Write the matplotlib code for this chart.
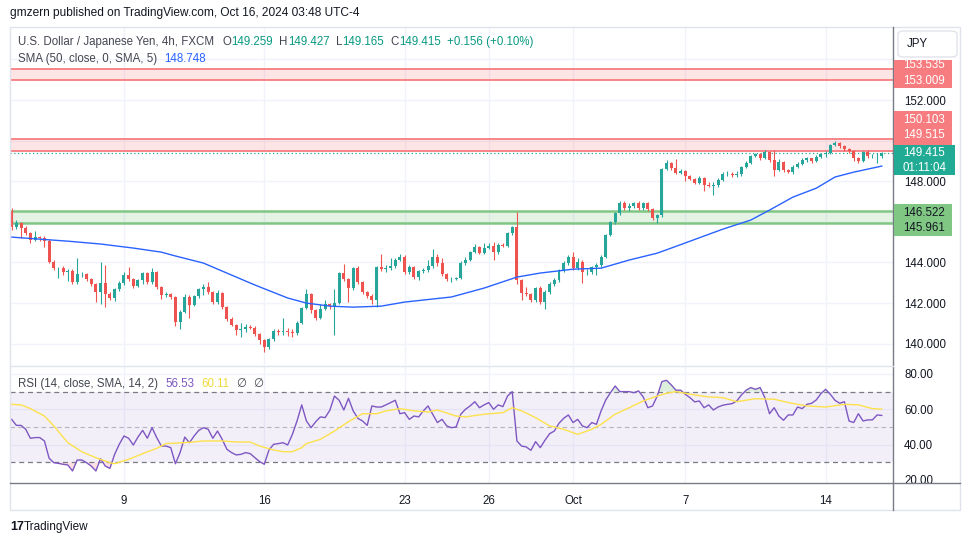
import matplotlib
matplotlib.use("Agg")
import matplotlib.pyplot as plt
import numpy as np
from matplotlib.patches import Rectangle, FancyBboxPatch
from matplotlib.lines import Line2D
from matplotlib.transforms import Bbox, TransformedBbox

plt.rcParams['font.family'] = ['Liberation Sans', 'DejaVu Sans']

# ---- data (USD/JPY 4h, Sep 3 - Oct 16 2024) ----
first_open = 146.53
closes = [
    145.74, 145.94, 145.69, 145.45, 145.10, 145.25, 145.20, 145.05, 144.02, 143.72,
    143.72, 143.53, 143.58, 143.03, 143.43, 143.43, 143.18, 142.94, 142.54, 142.99,
    142.44, 142.25, 142.69, 142.99, 143.38, 143.18, 142.84, 143.13, 143.48, 143.03,
    143.53, 142.79, 142.39, 142.44, 142.30, 141.06, 141.56, 142.30, 141.90, 142.34,
    142.69, 142.79, 142.54, 142.05, 142.49, 141.80, 141.21, 140.92, 140.67, 140.72,
    140.82, 140.77, 140.47, 140.18, 139.83, 140.23, 140.62, 140.57, 140.62, 140.57,
    140.52, 141.01, 141.75, 142.44, 141.66, 141.26, 141.70, 141.95, 141.85, 142.00,
    143.48, 143.18, 142.74, 143.72, 143.03, 142.54, 142.34, 142.15, 143.77, 143.67,
    143.72, 143.82, 144.12, 144.27, 143.53, 143.77, 143.28, 143.58, 143.63, 143.82,
    144.27, 143.97, 143.43, 143.18, 143.18, 143.23, 143.97, 144.12, 144.51, 144.76,
    144.46, 144.71, 144.81, 144.51, 144.86, 144.81, 145.45, 145.74, 143.13, 142.49,
    142.44, 142.15, 142.74, 142.05, 142.54, 142.94, 143.13, 143.63, 143.97, 144.27,
    143.72, 144.02, 143.53, 143.53, 143.77, 143.87, 144.27, 145.35, 145.99, 146.43,
    146.93, 146.68, 146.78, 146.93, 146.68, 146.93, 146.63, 146.19, 146.33, 148.60,
    148.90, 148.65, 148.40, 148.50, 148.26, 148.11, 147.91, 148.16, 147.81, 147.76,
    147.81, 148.06, 148.35, 148.35, 148.31, 148.35, 148.70, 148.90, 149.24, 149.34,
    149.14, 149.44, 149.04, 148.55, 148.95, 148.55, 148.45, 148.70, 148.85, 149.04,
    149.14, 148.99, 149.19, 149.34, 149.39, 149.78, 149.88, 149.73, 149.59, 149.49,
    149.14, 148.99, 149.44, 149.24, 149.24, 149.259, 149.415,
]
highs = [
    146.68, 146.08, 146.00, 145.78, 145.50, 145.55, 145.30, 145.28, 145.15, 144.10,
    143.80, 143.82, 143.70, 143.68, 144.22, 143.55, 143.50, 143.25, 143.00, 144.02,
    143.87, 142.55, 142.75, 143.10, 143.55, 143.77, 143.25, 143.20, 143.55, 143.55,
    143.72, 143.60, 142.85, 142.55, 142.50, 142.35, 141.65, 142.45, 142.40, 142.40,
    142.75, 142.95, 143.03, 142.60, 142.65, 142.55, 141.85, 141.30, 140.95, 141.01,
    140.95, 140.90, 140.85, 140.55, 140.25, 140.30, 140.70, 140.70, 141.26, 140.75,
    140.70, 141.10, 141.80, 142.69, 142.50, 141.70, 141.95, 142.15, 142.00, 142.69,
    143.55, 143.92, 143.25, 143.80, 143.82, 143.10, 142.60, 142.45, 143.85, 144.41,
    143.90, 144.20, 144.20, 144.40, 144.35, 143.90, 143.85, 143.65, 143.75, 144.10,
    144.66, 144.40, 144.22, 143.48, 143.30, 143.30, 144.05, 144.25, 144.58, 144.90,
    144.82, 144.95, 144.95, 145.00, 144.95, 144.95, 145.50, 145.80, 146.48, 143.20,
    142.80, 142.50, 142.80, 142.85, 142.65, 143.05, 143.25, 143.70, 144.05, 144.35,
    144.51, 144.20, 144.10, 143.70, 143.85, 143.95, 144.35, 145.40, 146.05, 146.50,
    147.05, 147.05, 146.95, 147.00, 147.05, 147.00, 147.00, 146.70, 146.40, 148.65,
    149.05, 148.95, 149.09, 148.60, 148.55, 148.30, 148.15, 148.25, 148.20, 147.95,
    147.95, 148.15, 148.45, 148.50, 148.45, 148.50, 148.75, 149.00, 149.30, 149.40,
    149.40, 149.54, 149.50, 149.54, 149.10, 149.00, 148.60, 148.80, 148.95, 149.15,
    149.20, 149.15, 149.30, 149.40, 149.50, 149.85, 149.98, 149.95, 149.80, 149.65,
    149.55, 149.20, 149.50, 149.55, 149.35, 149.40, 149.427,
]
lows = [
    145.60, 145.65, 145.20, 145.35, 144.95, 145.05, 145.05, 144.76, 143.95, 143.65,
    143.23, 143.40, 143.08, 142.95, 142.95, 143.30, 143.10, 142.85, 142.05, 141.95,
    141.80, 142.15, 142.10, 142.60, 142.90, 143.10, 142.75, 142.80, 142.95, 142.95,
    142.95, 142.70, 142.20, 142.30, 142.20, 140.87, 140.72, 141.50, 141.26, 141.85,
    142.25, 142.40, 142.45, 141.95, 141.95, 141.70, 141.10, 140.85, 140.45, 140.35,
    140.60, 140.70, 140.40, 140.00, 139.59, 139.75, 140.15, 140.45, 140.42, 140.40,
    140.35, 140.45, 140.95, 141.70, 141.50, 141.15, 141.20, 141.65, 141.70, 140.42,
    141.95, 143.10, 142.05, 142.65, 142.95, 142.45, 142.25, 141.95, 141.80, 143.60,
    143.55, 143.65, 143.75, 144.05, 143.45, 143.45, 143.20, 143.15, 143.50, 143.55,
    143.75, 143.85, 143.35, 143.10, 143.05, 143.13, 143.20, 143.90, 144.05, 144.45,
    144.40, 144.40, 144.65, 144.12, 144.40, 144.75, 144.75, 145.35, 142.95, 142.15,
    142.35, 142.05, 142.05, 141.95, 141.70, 142.45, 142.85, 143.05, 143.55, 143.90,
    143.65, 143.65, 142.99, 143.40, 143.45, 143.40, 143.80, 144.20, 145.30, 145.90,
    146.35, 146.60, 146.55, 146.70, 146.60, 146.60, 146.55, 146.10, 145.94, 146.25,
    148.55, 148.55, 148.35, 148.35, 148.01, 148.05, 147.85, 147.85, 147.52, 147.70,
    147.32, 147.72, 148.00, 148.25, 148.20, 148.20, 148.25, 148.65, 148.85, 149.20,
    149.05, 149.10, 148.95, 148.26, 148.50, 148.45, 148.40, 148.35, 148.65, 148.80,
    148.95, 148.90, 148.95, 149.15, 149.20, 149.35, 149.75, 149.65, 149.50, 149.40,
    149.00, 148.90, 148.95, 149.15, 149.15, 148.90, 149.165,
]

# SMA(50) smoothed, read at sample candles
sma_idx = [0, 12, 19, 26, 32, 35, 41, 47, 52, 59, 63, 68, 73, 79, 84, 94,
           101, 108, 113, 120, 126, 132, 138, 141, 152, 158, 162, 167, 172, 176, 180, 186]
sma_vals = [145.25, 145.05, 144.91, 144.71, 144.51, 144.32, 143.97, 143.38, 142.89, 142.25,
            142.00, 141.85, 141.80, 141.85, 142.05, 142.30, 142.74, 143.28, 143.48, 143.67,
            143.72, 144.12, 144.46, 144.71, 145.64, 146.09, 146.58, 147.22, 147.66, 148.21,
            148.45, 148.748]

rsi = [
    54.3, 50.9, 50.9, 48.7, 43.6, 44.0, 44.0, 42.1, 32.3, 29.8,
    29.4, 28.9, 28.5, 25.1, 31.3, 31.3, 29.8, 27.9, 25.1, 32.1,
    27.9, 26.6, 34.5, 40.2, 44.9, 43.6, 39.8, 44.3, 48.1, 43.6,
    49.6, 44.0, 39.2, 39.2, 38.3, 29.2, 35.5, 44.3, 41.1, 44.9,
    48.1, 49.6, 48.7, 43.6, 47.7, 43.0, 37.4, 35.5, 34.2, 34.5,
    35.5, 34.9, 32.6, 30.4, 28.9, 37.0, 40.2, 40.6, 41.1, 39.8,
    45.8, 53.4, 62.5, 53.4, 49.6, 53.0, 55.7, 55.3, 59.4, 67.5,
    65.1, 59.6, 66.2, 59.1, 54.9, 53.4, 50.9, 61.9, 61.3, 61.3,
    62.5, 63.8, 65.1, 57.5, 58.1, 54.3, 56.2, 55.7, 59.1, 61.9,
    57.2, 52.5,
    54.3, 50.6, 49.6, 50.0, 57.2, 60.0, 61.9, 64.3, 60.9, 62.5,
    63.8, 60.0, 62.5, 61.5, 67.5, 70.0, 42.1, 39.2, 38.7, 36.8,
    41.7, 38.3, 42.5, 46.2, 47.7, 52.1, 54.9, 56.8, 52.5, 54.3,
    50.6, 49.6, 52.5, 51.5, 59.1, 65.3, 69.4, 73.2, 70.0, 70.0,
    70.0, 69.4, 70.4, 67.0, 60.9, 61.9, 67.5, 75.7, 76.4, 73.8,
    70.8, 70.8, 68.5, 66.6, 64.2, 64.7, 60.9, 62.5, 59.6, 61.3,
    62.3, 62.8, 63.2, 64.7, 68.1, 70.8, 72.3, 71.3, 72.3, 66.6,
    57.5, 60.9, 56.2, 53.8, 56.8, 56.8, 61.3, 60.4, 62.8, 63.4,
    65.3, 68.9, 71.3, 68.5, 65.1, 63.4, 64.3, 53.4, 52.5, 57.5,
    53.4, 54.0, 54.0, 56.8, 56.53,
]
rsi_ma_idx = [0, 2, 4, 7, 9, 12, 15, 18, 21, 22, 25, 28, 31, 33, 38, 41, 45, 48, 51, 53,
              56, 58, 60, 62, 63, 66, 69, 72, 75, 78, 80, 83, 86, 89, 91, 95, 97, 101, 105, 107,
              109, 112, 115, 118, 121, 124, 126, 129, 132, 135, 137, 140, 142, 146, 149, 152,
              155, 159, 163, 166, 170, 174, 178, 181, 184, 186]
rsi_ma_vals = [62.8, 62.5, 60.4, 56.2, 50.6, 41.1, 36.0, 32.6, 29.8, 29.2, 31.7, 34.9, 37.9,
               40.6, 41.3, 42.1, 42.1, 41.5, 41.5, 39.2, 37.0, 36.0, 36.0, 38.3, 40.6, 43.0,
               47.7, 53.0, 57.5, 57.5, 59.1, 60.4, 59.1, 58.5, 59.6, 56.2, 55.7, 57.2, 58.1,
               60.9, 59.1, 55.3, 50.6, 48.7, 45.8, 48.7, 51.5, 57.2, 60.9, 64.7, 66.6, 69.1,
               70.0, 68.1, 67.0, 66.6, 64.3, 66.0, 65.7, 63.8, 61.9, 61.3, 62.8, 62.5, 60.4,
               60.11]

red_zone_top = (153.009, 153.535)
red_zone = (149.515, 150.103)
green_zone = (145.961, 146.522)
last_price = 149.415
countdown = "01:11:04"

date_idx = [24, 54, 84, 102, 120, 144, 174]
date_labels = ["9", "16", "23", "26", "Oct", "7", "14"]
price_ticks = [140, 142, 144, 146, 148, 150, 152, 154]
price_shown = [140, 142, 144, 148, 152]
rsi_ticks = [40, 60, 80]

UP, DOWN = "#26A69A", "#EF5350"
TXT = "#131722"
GRID = "#F0F3FA"

W, H = 970, 545
fig = plt.figure(figsize=(9.7, 5.45), dpi=100)


def fx(px):
    return px / W


def fy(py):
    return 1 - py / H


ax = fig.add_axes([fx(10), fy(365), fx(893) - fx(10), fy(27) - fy(365)])
axr = fig.add_axes([fx(10), fy(483), fx(893) - fx(10), fy(366) - fy(483)])

n = len(closes)
x = np.arange(n)
c = np.array(closes)
o = np.array([first_open] + closes[:-1])
hi = np.array(highs)
lo = np.array(lows)
cols = np.where(c >= o, UP, DOWN)

# zones
for lo_z, hi_z in (red_zone_top, red_zone):
    ax.axhspan(lo_z, hi_z, color="#F23645", alpha=0.13, lw=0, zorder=1)
    ax.axhline(lo_z, color="#F77C80", lw=1.3, zorder=2)
    ax.axhline(hi_z, color="#F77C80", lw=1.3, zorder=2)
ax.axhspan(green_zone[0], green_zone[1], color="#4CAF50", alpha=0.15, lw=0, zorder=1)
ax.axhline(green_zone[0], color="#81C784", lw=1.8, zorder=2)
ax.axhline(green_zone[1], color="#81C784", lw=1.8, zorder=2)

# candles
ax.vlines(x, lo, hi, colors=cols, lw=0.8, zorder=3)
ax.bar(x, np.maximum(np.abs(c - o), 0.02), bottom=np.minimum(o, c), width=0.64,
       color=cols, lw=0, zorder=4)
ax.plot(sma_idx, sma_vals, color="#2962FF", lw=1.0, zorder=5)
ax.axhline(last_price, color="#22AB94", lw=0.9, ls=(0, (1, 2)), zorder=2)

xlim = (-0.36, 188.4)
ax.set_xlim(*xlim)
ax.set_ylim(138.95, 155.60)
ax.set_yticks(price_ticks)
ax.set_yticklabels(["%.3f" % t if t in price_shown else "" for t in price_ticks])
ax.set_xticks(date_idx)
ax.set_xticklabels([])

# RSI pane
rs = np.array(rsi)
axr.axhspan(30, 70, color="#7E57C2", alpha=0.09, lw=0)
axr.axhline(70, color="#787B86", lw=0.9, ls=(0, (4, 3)))
axr.axhline(30, color="#787B86", lw=0.9, ls=(0, (4, 3)))
axr.axhline(50, color="#787B86", lw=0.8, ls=(0, (4, 3)), alpha=0.5)
axr.fill_between(x, 70, rs, where=rs > 70, interpolate=True, color="#4CAF50", alpha=0.2, lw=0)
axr.fill_between(x, 30, rs, where=rs < 30, interpolate=True, color="#F23645", alpha=0.15, lw=0)
axr.plot(x, rs, color="#7E57C2", lw=1.0)
axr.plot(rsi_ma_idx, rsi_ma_vals, color="#FDE14B", lw=1.0)
axr.set_xlim(*xlim)
axr.set_ylim(18.3, 84.5)
axr.set_yticks(rsi_ticks)
axr.set_yticklabels(["%.2f" % t for t in rsi_ticks])
axr.set_xticks(date_idx)
axr.set_xticklabels(date_labels)

for a in (ax, axr):
    a.yaxis.tick_right()
    a.tick_params(axis="y", length=0, pad=8, labelsize=8.3, labelcolor="#131722")
    a.tick_params(axis="x", length=0, pad=9, labelsize=8.3, labelcolor="#131722")
    a.grid(True, color=GRID, lw=1)
    a.set_axisbelow(True)
    for s in a.spines.values():
        s.set_visible(False)
    a.set_facecolor("none")

# frame and separators
fig.patches.append(Rectangle((fx(10), fy(510)), fx(960) - fx(10), fy(27) - fy(510),
                             transform=fig.transFigure, fill=False, ec="#E0E3EB", lw=1))
fig.lines.append(Line2D([fx(893), fx(893)], [fy(27), fy(510)], transform=fig.transFigure,
                        color="#787B86", lw=1))
fig.lines.append(Line2D([fx(10), fx(960)], [fy(483), fy(483)], transform=fig.transFigure,
                        color="#787B86", lw=1))
fig.lines.append(Line2D([fx(10), fx(893)], [fy(365.5), fy(365.5)], transform=fig.transFigure,
                        color="#E0E3EB", lw=1))

# 20.00 label clipped by pane bottom
t20 = fig.text(fx(904), fy(481.5), "20.00", fontsize=8.3, color=TXT, va="center")
t20.set_clip_box(TransformedBbox(Bbox([[fx(893), fy(483)], [1, fy(366)]]), fig.transFigure))
t20.set_clip_on(True)

# right-hand price labels
def label_box(y0, y1, texts, fc, tc, x1=952):
    fig.patches.append(Rectangle((fx(894), fy(y1)), fx(x1) - fx(894), fy(y0) - fy(y1),
                                 transform=fig.transFigure, fc=fc, ec="none", zorder=3))
    for ty, s in texts:
        fig.text(fx(903), fy(ty), s, fontsize=8.3, color=tc, va="center", zorder=4)


label_box(60, 88, [(65, "%.3f" % red_zone_top[1]), (81, "%.3f" % red_zone_top[0])], "#F77C80", "white")
label_box(111, 145, [(120, "%.3f" % red_zone[1]), (135, "%.3f" % red_zone[0])], "#F77C80", "white")
label_box(145, 175, [(153, "%.3f" % last_price), (168, countdown)], "#22AB94", "white", x1=955)
label_box(204, 236, [(213, "%.3f" % green_zone[1]), (228, "%.3f" % green_zone[0])], "#81C784", TXT)

jpy = FancyBboxPatch((fx(898), fy(57)), fx(957) - fx(898), fy(31) - fy(57),
                     boxstyle="round,pad=0,rounding_size=0.006", transform=fig.transFigure,
                     fc="white", ec="#E0E3EB", lw=1, zorder=5)
fig.patches.append(jpy)
fig.text(fx(907), fy(44), "JPY", fontsize=8.3, color=TXT, va="center", zorder=6)

# legend lines
renderer = fig.canvas.get_renderer()


def chain(x_px, y_px, parts, size=8.3):
    for s, col, gap in parts:
        t = fig.text(fx(x_px), fy(y_px), s, color=col, fontsize=size, va="center", ha="left")
        x_px += t.get_window_extent(renderer=renderer).width + gap


GR = "#434651"
GN = "#089981"
chain(18, 42, [("U.S. Dollar / Japanese Yen, 4h, FXCM", GR, 8),
               ("O", GR, 0.5), ("149.259", GN, 6), ("H", GR, 0.5), ("149.427", GN, 6),
               ("L", GR, 0.5), ("149.165", GN, 6), ("C", GR, 0.5), ("149.415", GN, 6),
               ("+0.156 (+0.10%)", GN, 0)])
chain(18, 59, [("SMA (50, close, 0, SMA, 5)", GR, 7), ("148.748", "#2962FF", 0)])
chain(18, 384, [("RSI (14, close, SMA, 14, 2)", GR, 7), ("56.53", "#7E57C2", 7),
                ("60.11", "#F2D93B", 7), ("\u2205", GR, 7), ("\u2205", GR, 0)])

fig.text(fx(10), fy(13), "gmzern published on TradingView.com, Oct 16, 2024 03:48 UTC-4",
         fontsize=8.6, color=TXT, va="center")
fig.text(fx(10), fy(527), "17", fontsize=9, fontweight="bold", color=TXT, va="center")
fig.text(fx(24), fy(527), "TradingView", fontsize=8.5, color=TXT, va="center")

fig.savefig("out.png", dpi=100, facecolor="white")
